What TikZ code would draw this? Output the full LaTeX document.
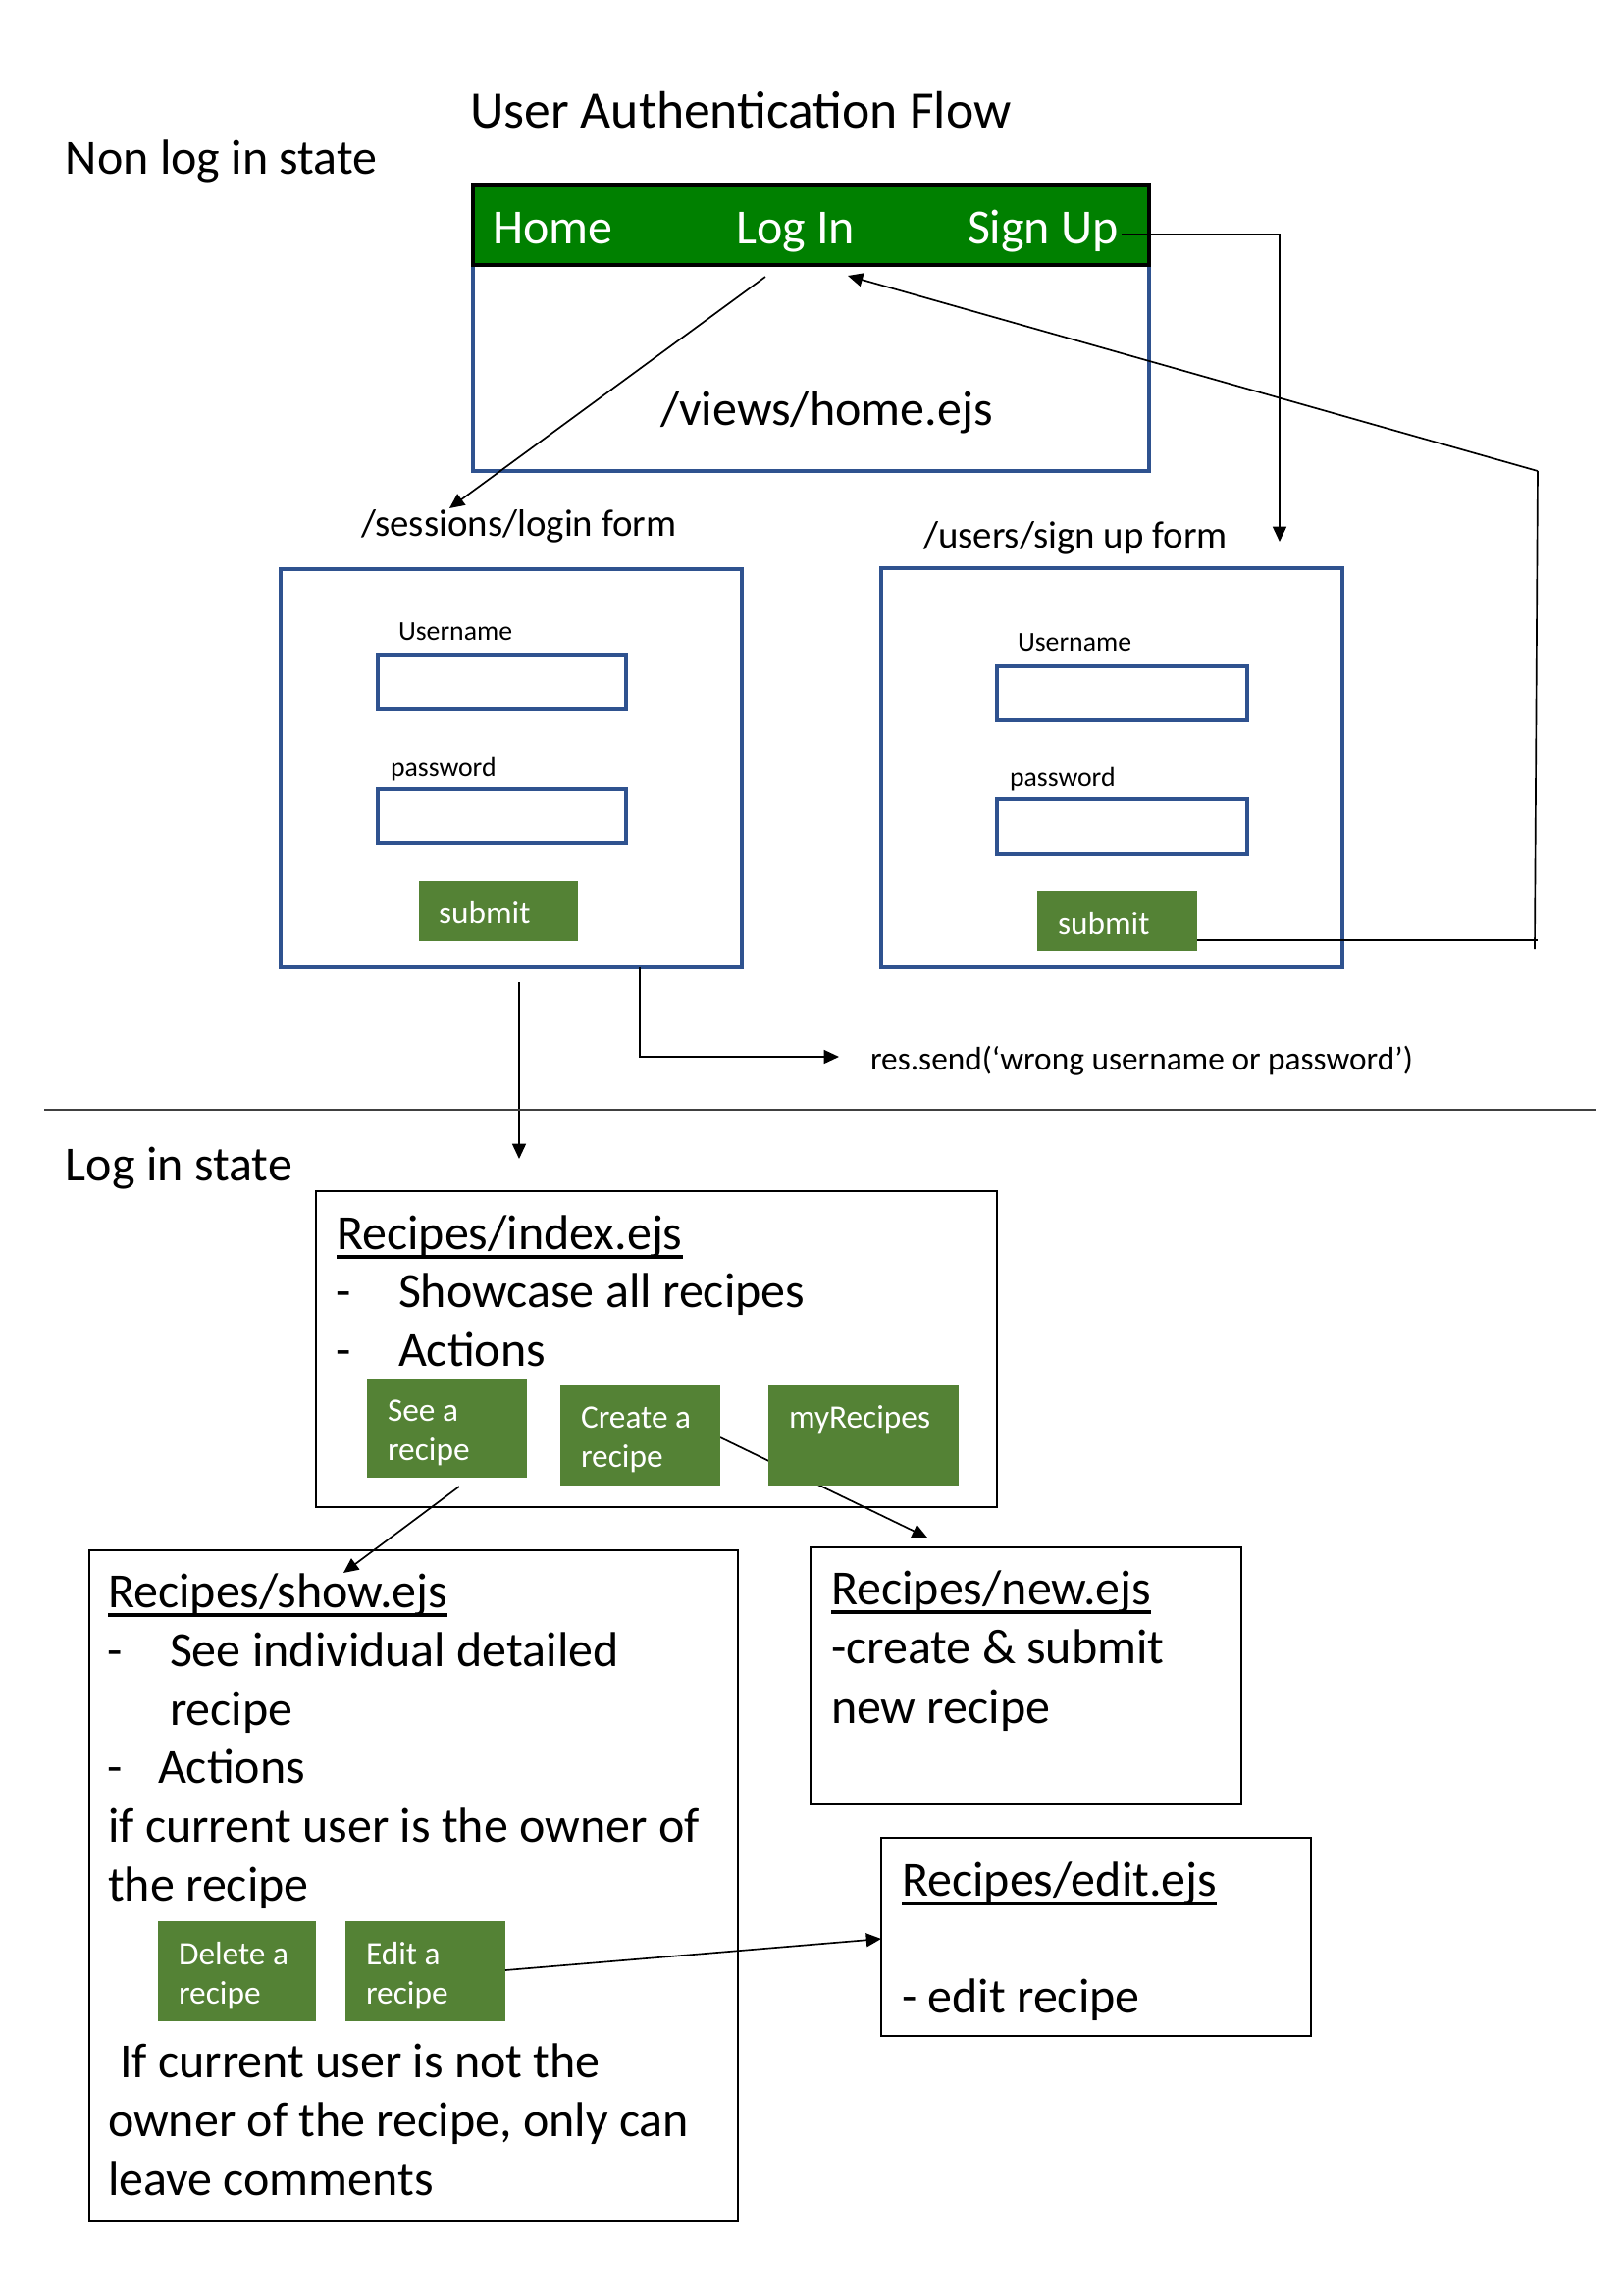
\documentclass[tikz,border=0pt]{standalone}
\usepackage{fontspec}
\setmainfont{Carlito}
\usetikzlibrary{arrows.meta,fit,backgrounds}
\definecolor{barg}{HTML}{008000}
\definecolor{btng}{HTML}{548235}
\definecolor{formblue}{HTML}{2F528F}
\newcommand{\myul}[1]{\setbox0\hbox{#1}\rlap{\vrule height -2.1pt depth 3.5pt width \wd0}\box0}
\begin{document}
\begin{tikzpicture}[x=0.36pt,y=-0.36pt,
  every node/.style={inner sep=0pt,outer sep=0pt},
  lbl/.style={anchor=base west,yshift=-1.1pt},
  fbox/.style={draw=formblue,line width=1.3pt},
  pbox/.style={draw=black,line width=0.9pt},
  btn/.style={fill=btng,draw=none},
  conn/.style={draw=black,line width=0.6pt},
  arr/.style={conn,-{Triangle[length=5.5pt,width=5pt]}},
  f18/.style={font=\fontsize{18}{21.6}\selectfont},
  f14/.style={font=\fontsize{14}{17}\selectfont},
  f12/.style={font=\fontsize{12}{14.4}\selectfont},
  f10/.style={font=\fontsize{10}{12}\selectfont},
  btxt/.style={lbl,f12,text=white}]
\useasboundingbox (0,0) rectangle (1654,2339);

% ---------- non log in state ----------
\node[lbl,font=\fontsize{19.3}{23}\selectfont] (title) at (479,127) {User Authentication Flow};
\node[lbl,f18] (nonlog) at (67,174) {Non log in state};

\node[fit={(482,270) (1171,480)},fbox] (home) {};
\node[fit={(482,189) (1171,270)},fill=barg,draw=black,line width=1.1pt] (bar) {};
\node[lbl,f18,text=white] (thome) at (502,245) {Home};
\node[lbl,f18,text=white] (tlogin) at (750,245) {Log In};
\node[lbl,f18,text=white] (tsign) at (986,245) {Sign Up};
\node[lbl,f18] (homepath) at (673,430) {/views/home.ejs};

% login form
\node[lbl,f14] (loginlbl) at (368,543) {/sessions/login form};
\node[fit={(286,580) (756,986)},fbox] (loginbox) {};
\node[lbl,f10] (lu) at (406,649) {Username};
\node[fit={(385,668) (638,723)},fbox] (luin) {};
\node[lbl,f10] (lp) at (398,788) {password};
\node[fit={(385,804) (638,859)},fbox] (lpin) {};
\node[fit={(427,898) (589,959)},btn] (lsub) {};
\node[btxt] (lsubt) at (447,938) {submit};

% sign up form
\node[lbl,f14] (signlbl) at (941,555) {/users/sign up form};
\node[fit={(898,579) (1368,986)},fbox] (signbox) {};
\node[lbl,f10] (su) at (1037,660) {Username};
\node[fit={(1016,679) (1271,734)},fbox] (suin) {};
\node[lbl,f10] (sp) at (1029,798) {password};
\node[fit={(1016,814) (1271,870)},fbox] (spin) {};
\node[fit={(1057,908) (1220,969)},btn] (ssub) {};
\node[btxt] (ssubt) at (1078,949) {submit};

% connectors (top)
\coordinate (li0) at (780,282);
\coordinate (li1) at (458,518);
\draw[arr] (li0) -- (li1);
\coordinate (su0) at (1143,239);
\coordinate (su1) at (1304,239);
\coordinate (su2) at (1304,552);
\draw[arr] (su0) -- (su1) -- (su2);
\coordinate (sb0) at (1220,958);
\coordinate (sb1) at (1567,958);
\coordinate (sb2) at (1564,967);
\coordinate (sb3) at (1567,480);
\coordinate (sb4) at (864,281);
\draw[conn] (sb0) -- (sb1);
\draw[conn] (sb2) -- (sb3);
\draw[arr] (sb3) -- (sb4);
\coordinate (ld0) at (529,1001);
\coordinate (ld1) at (529,1181);
\draw[arr] (ld0) -- (ld1);
\coordinate (w0) at (652,986);
\coordinate (w1) at (652,1077);
\coordinate (w2) at (855,1077);
\draw[arr] (w0) -- (w1) -- (w2);
\node[lbl,f12] (wrong) at (887,1087) {res.send(‘wrong username or password’)};

% separator
\coordinate (sep0) at (45,1131);
\coordinate (sep1) at (1626,1131);
\draw[line width=0.6pt,black!75] (sep0) -- (sep1);

% ---------- log in state ----------
\node[lbl,f18] (loglbl) at (67,1200) {Log in state};

% index
\node[fit={(322,1214) (1016,1536)},pbox] (index) {};
\node[lbl,f18] (it) at (343,1270) {\myul{Recipes/index.ejs}};
\node[lbl,f18] (id1) at (342,1329) {-};
\node[lbl,f18] (il1) at (406,1329) {Showcase all recipes};
\node[lbl,f18] (id2) at (342,1389) {-};
\node[lbl,f18] (il2) at (406,1389) {Actions};
\node[fit={(374,1405) (537,1506)},btn] (bsee) {};
\node[btxt] (bsee1) at (395,1445) {See a};
\node[btxt] (bsee2) at (395,1485) {recipe};
\node[fit={(571,1412) (734,1514)},btn] (bcreate) {};
\node[btxt] (bcr1) at (592,1452) {Create a};
\node[btxt] (bcr2) at (592,1492) {recipe};
\coordinate (cr0) at (734,1465);
\coordinate (cr1) at (945,1567);
\begin{pgfonlayer}{background}
\draw[arr] (cr0) -- (cr1);
\end{pgfonlayer}
\node[fit={(783,1412) (977,1514)},btn] (bmy) {};
\node[btxt] (bmyt) at (804,1452) {myRecipes};

% show
\node[fit={(91,1580) (752,2264)},pbox] (show) {};
\node[lbl,f18] (st) at (110,1635) {\myul{Recipes/show.ejs}};
\node[lbl,f18] (sd1) at (109,1695) {-};
\node[lbl,f18] (sl1) at (173,1695) {See individual detailed};
\node[lbl,f18] (sl2) at (173,1755) {recipe};
\node[lbl,f18] (sd2) at (109,1814) {-};
\node[lbl,f18] (sl3) at (161,1814) {Actions};
\node[lbl,f18] (sl4) at (110,1874) {if current user is the owner of};
\node[lbl,f18] (sl5) at (110,1934) {the recipe};
\node[fit={(161,1958) (322,2060)},btn] (bdel) {};
\node[btxt] (bdel1) at (182,1999) {Delete a};
\node[btxt] (bdel2) at (182,2039) {recipe};
\node[fit={(352,1958) (515,2060)},btn] (bedit) {};
\node[btxt] (bed1) at (373,1999) {Edit a};
\node[btxt] (bed2) at (373,2039) {recipe};
\node[lbl,f18] (sl6) at (122,2114) {If current user is not the};
\node[lbl,f18] (sl7) at (110,2174) {owner of the recipe, only can};
\node[lbl,f18] (sl8) at (110,2234) {leave comments};

% new
\node[fit={(826,1577) (1265,1839)},pbox] (new) {};
\node[lbl,f18] (nt) at (847,1632) {\myul{Recipes/new.ejs}};
\node[lbl,f18] (nl1) at (847,1692) {-create \& submit};
\node[lbl,f18] (nl2) at (847,1753) {new recipe};

% edit
\node[fit={(898,1873) (1336,2075)},pbox] (edit) {};
\node[lbl,f18] (et) at (919,1929) {\myul{Recipes/edit.ejs}};
\node[lbl,f18] (el1) at (919,2048) {- edit recipe};

% lower connectors
\coordinate (sr0) at (468,1515);
\coordinate (sr1) at (350,1603);
\draw[arr] (sr0) -- (sr1);
\coordinate (ed0) at (515,2008);
\coordinate (ed1) at (898,1976);
\draw[arr] (ed0) -- (ed1);
\end{tikzpicture}
\end{document}
